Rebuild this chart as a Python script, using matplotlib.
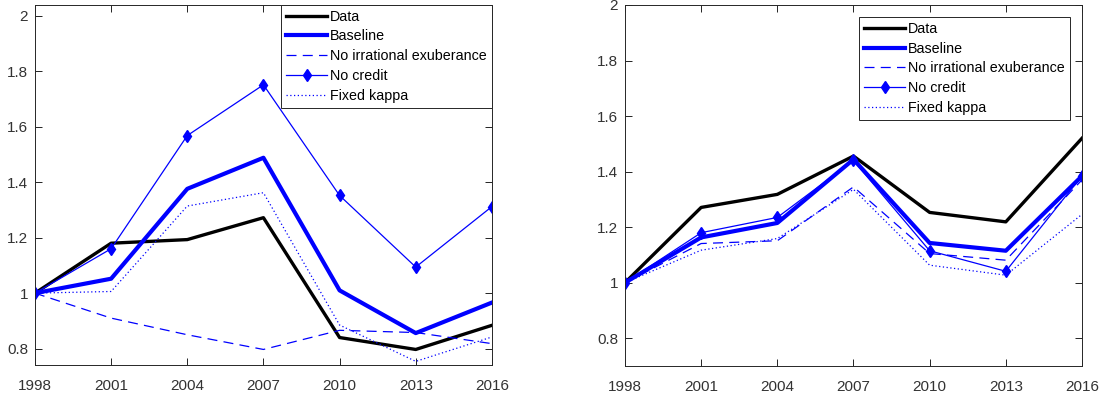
import numpy as np
import matplotlib.pyplot as plt

years = [1998, 2001, 2004, 2007, 2010, 2013, 2016]

# left panel
data_l = [1.0, 1.180, 1.193, 1.272, 0.840, 0.797, 0.884]
base_l = [1.0, 1.052, 1.376, 1.488, 1.010, 0.856, 0.966]
noirr_l = [1.0, 0.910, 0.850, 0.797, 0.866, 0.858, 0.818]
nocred_l = [1.0, 1.160, 1.568, 1.751, 1.352, 1.094, 1.312]
kappa_l = [1.0, 1.006, 1.314, 1.362, 0.885, 0.754, 0.842]

# right panel
data_r = [1.0, 1.271, 1.318, 1.456, 1.253, 1.219, 1.520]
base_r = [1.0, 1.163, 1.215, 1.444, 1.143, 1.115, 1.384]
noirr_r = [1.0, 1.141, 1.151, 1.345, 1.105, 1.081, 1.370]
nocred_r = [1.0, 1.180, 1.235, 1.440, 1.115, 1.041, 1.385]
kappa_r = [1.0, 1.117, 1.159, 1.336, 1.063, 1.027, 1.246]

labels = ['Data', 'Baseline', 'No irrational exuberance', 'No credit', 'Fixed kappa']
yticks = [0.8, 1, 1.2, 1.4, 1.6, 1.8, 2]
ytick_labels = ['0.8', '1', '1.2', '1.4', '1.6', '1.8', '2']

plt.rcParams['font.family'] = ['Liberation Sans', 'DejaVu Sans']

fig = plt.figure(figsize=(10.99, 3.96), dpi=100)
ax1 = fig.add_axes([0.0318, 0.0783, 0.4158, 0.910])
ax2 = fig.add_axes([0.5687, 0.0758, 0.4158, 0.9116])


def draw(ax, d, b, n, c, k):
    ax.plot(years, d, color='black', lw=2.4, label=labels[0])
    ax.plot(years, b, color='blue', lw=3.0, label=labels[1])
    ax.plot(years, n, color='blue', lw=0.9, ls=(0, (8, 5)), label=labels[2])
    ax.plot(years, c, color='blue', lw=0.9, marker='d', ms=6, label=labels[3])
    ax.plot(years, k, color='blue', lw=0.9, ls=(0, (1, 2)), label=labels[4])
    ax.set_xticks(years)
    ax.set_xlim(1998, 2016)
    ax.set_yticks(yticks)
    ax.set_yticklabels(ytick_labels)
    ax.tick_params(direction='in', top=True, right=True, labelsize=11,
                   labelcolor='#333333', length=5, width=0.6, pad=5)
    ax.tick_params(axis='x', pad=10)
    for s in ax.spines.values():
        s.set_linewidth(0.7)
        s.set_color('#262626')


def legend(ax, anchor):
    leg = ax.legend(loc='upper right', bbox_to_anchor=anchor, borderaxespad=0,
                    fontsize=10.3, handlelength=2.9, handletextpad=0.2,
                    labelspacing=0.4, fancybox=False, framealpha=1,
                    edgecolor='#262626', borderpad=0.35)
    leg.get_frame().set_linewidth(0.7)


draw(ax1, data_l, base_l, noirr_l, nocred_l, kappa_l)
ax1.set_ylim(0.741, 2.04)
legend(ax1, (1.0, 1.0))

draw(ax2, data_r, base_r, noirr_r, nocred_r, kappa_r)
ax2.set_ylim(0.7, 2.0)
legend(ax2, (0.974, 0.967))

fig.savefig('out.png', dpi=100)
